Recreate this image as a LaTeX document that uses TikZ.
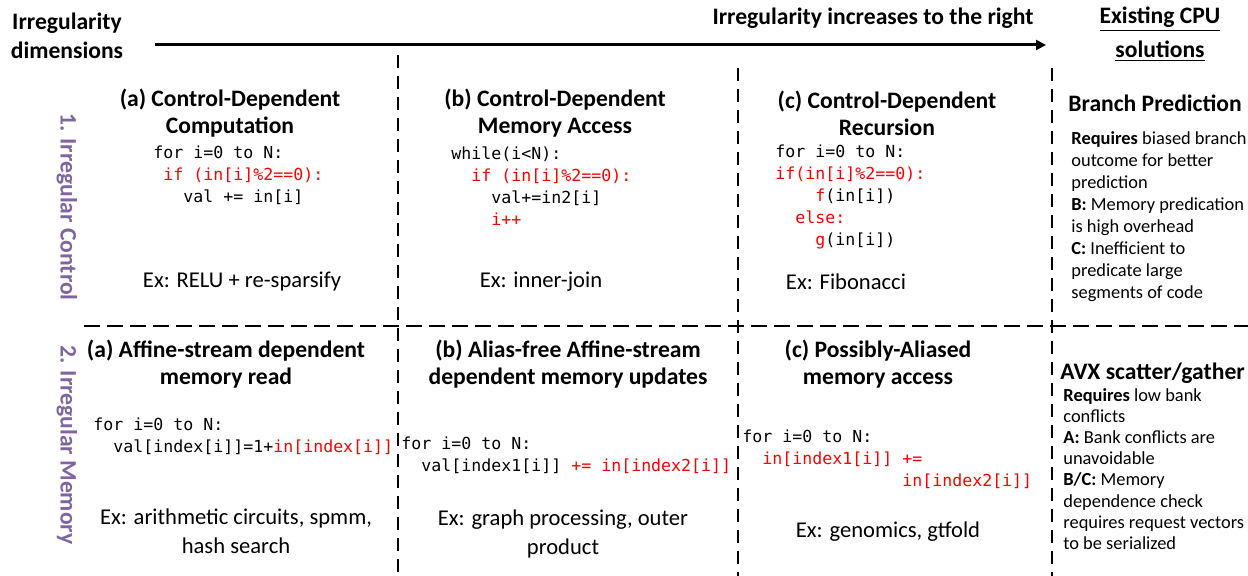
\documentclass[tikz,border=0pt]{standalone}
\usepackage{fontspec}
\setmainfont{Carlito}
\setmonofont{DejaVu Sans Mono}
\usetikzlibrary{arrows.meta}

\definecolor{dimpurple}{RGB}{128,100,162}
\definecolor{codered}{RGB}{255,0,0}

% indent by a number of monospace characters
\newcommand\ind[1]{\hspace*{#1\fontcharwd\font`\0}}
\newcommand\hl[1]{\textcolor{codered}{#1}}

\begin{document}
\begin{tikzpicture}[x=0.5pt,y=-0.5pt,
  heading/.style={font=\bfseries\fontsize{11.8}{13.5}\selectfont, align=center, inner sep=0},
  dimlabel/.style={font=\bfseries\fontsize{11.8}{13.5}\selectfont, text=dimpurple, rotate=-90, inner sep=0},
  code/.style={font=\ttfamily\fontsize{8.3}{11}\selectfont, align=left, anchor=west, inner sep=0},
  example/.style={font=\fontsize{11.3}{14.5}\selectfont, align=center, inner sep=0},
  soltitle/.style={font=\bfseries\fontsize{11.8}{13.5}\selectfont, anchor=west, inner sep=0},
  note/.style={font=\fontsize{9.2}{11}\selectfont, align=left, anchor=west, inner sep=0},
  vsep/.style={line width=1.2pt, dash pattern=on 6.5pt off 4pt},
  hsep/.style={line width=1.2pt, dash pattern=on 8pt off 3.5pt}]

\useasboundingbox (0,0) rectangle (1248,576);

% axis titles
\node[heading] (dims) at (67,36) {Irregularity\\[1pt]dimensions};
\node[heading] (trend) at (873,18) {Irregularity increases to the right};
\node[heading, font=\bfseries\fontsize{11.8}{17}\selectfont] (cpu) at (1160,34)
  {\underline{Existing CPU}\\\underline{solutions}};

% irregularity arrow
\coordinate (arrowL) at (155,45);
\coordinate (arrowR) at (1046,45);
\draw[line width=1.5pt, -{Triangle[length=5pt,width=5pt]}] (arrowL) -- (arrowR);

% grid separators
\coordinate (v1t) at (398,55);   \coordinate (v1b) at (398,576);
\coordinate (v2t) at (738,68);   \coordinate (v2b) at (738,576);
\coordinate (v3t) at (1052,68);  \coordinate (v3b) at (1052,576);
\coordinate (hl) at (84,326);    \coordinate (hr) at (1248,326);
\draw[vsep] (v1t) -- (v1b);
\draw[vsep] (v2t) -- (v2b);
\draw[vsep] (v3t) -- (v3b);
\draw[hsep] (hl) -- (hr);

% row labels
\node[dimlabel] (rowctl) at (67,207) {1. Irregular Control};
\node[dimlabel] (rowmem) at (67,445) {2. Irregular Memory};

% row 1: irregular control
\node[heading] (ha) at (230,113.5) {(a) Control-Dependent\\Computation};
\node[code] (ca) at (153,175) {for i=0 to N:\\
\ind1\hl{if (in[i]\%2==0):}\\
\ind3val += in[i]};
\node[example] (ea) at (242,282) {Ex: RELU + re-sparsify};

\node[heading] (hb) at (555,113.5) {(b) Control-Dependent\\Memory Access};
\node[code] (cb) at (451,186) {while(i<N):\\
\ind2\hl{if (in[i]\%2==0):}\\
\ind4val+=in2[i]\\
\ind4\hl{i++}};
\node[example] (eb) at (541,282) {Ex: inner-join};

\node[heading] (hc) at (887,113.5) {(c) Control-Dependent\\Recursion};
\node[code] (cc) at (775,197) {for i=0 to N:\\
\hl{if(in[i]\%2==0):}\\
\ind4\hl{f}(in[i])\\
\ind2\hl{else:}\\
\ind4\hl{g}(in[i])};
\node[example] (ec) at (846,282) {Ex: Fibonacci};

% row 2: irregular memory
\node[heading] (hd) at (226,364) {(a) Affine-stream dependent\\memory read};
\node[code] (cd) at (93,436.5) {for i=0 to N:\\
\ind2val[index[i]]=1+\hl{in[index[i]]}};
\node[example] (ed) at (236,531.5) {Ex: arithmetic circuits, spmm,\\hash search};

\node[heading] (he) at (568,364) {(b) Alias-free Affine-stream\\dependent memory updates};
\node[code] (ce) at (401,455) {for i=0 to N:\\
\ind2val[index1[i]] \hl{+= in[index2[i]]}};
\node[example] (ee) at (563,533.5) {Ex: graph processing, outer\\product};

\node[heading] (hf) at (878,364) {(c) Possibly-Aliased\\memory access};
\node[code] (cf) at (742,459) {for i=0 to N:\\
\ind2\hl{in[index1[i]] +=}\\
\ind{16}\hl{in[index2[i]]}};
\node[example] (ef) at (888,532) {Ex: genomics, gtfold};

% existing CPU solutions
\node[soltitle] (bp) at (1068,103) {Branch Prediction};
\node[note] (bpn) at (1071,217) {\textbf{Requires} biased branch\\
outcome for better\\
prediction\\
\textbf{B:} Memory predication\\
is high overhead\\
\textbf{C:} Inefficient to\\
predicate large\\
segments of code};

\node[soltitle] (avx) at (1060,373) {AVX scatter/gather};
\node[note, font=\fontsize{9.2}{10.6}\selectfont] (avxn) at (1063,469) {\textbf{Requires} low bank\\
conflicts\\
\textbf{A:} Bank conflicts are\\
unavoidable\\
\textbf{B/C:} Memory\\
dependence check\\
requires request vectors\\
to be serialized};

\end{tikzpicture}
\end{document}
